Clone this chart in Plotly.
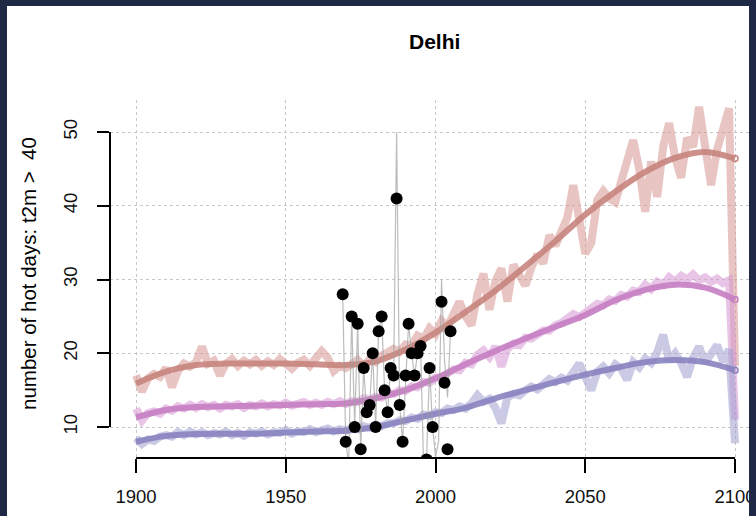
import plotly.graph_objects as go

# ---------------- data ----------------
noisy_years = list(range(1900, 2101, 2))

red_noisy = [17.0, 14.8, 16.6, 17.2, 16.8, 18.0, 15.4, 17.6, 18.6, 18.2,
             18.8, 20.9, 18.6, 19.0, 17.0, 18.6, 19.2, 18.3, 19.0, 18.5,
             19.1, 18.3, 18.9, 18.4, 19.2, 18.5, 17.9, 18.7, 19.1, 18.3,
             19.4, 20.3, 19.4, 17.6, 18.3, 18.0, 18.5, 19.1, 18.2, 19.2,
             18.8, 19.7, 20.1, 20.6, 20.2, 21.2, 21.0, 22.4, 22.0, 23.4,
             22.6, 24.4, 23.6, 25.2, 27.0, 25.0, 23.8, 28.0, 30.8, 25.9,
             29.8, 31.5, 27.0, 32.0, 30.4, 29.2, 31.6, 33.4, 32.2, 36.0,
             34.6, 36.8, 38.4, 42.8, 38.0, 33.5, 35.0, 40.8, 42.0, 41.0,
             40.5, 43.5, 45.5, 48.9, 45.0, 39.2, 46.0, 41.2, 48.0, 51.2,
             46.5, 43.8, 49.2, 48.0, 53.4, 47.5, 42.8, 47.6, 50.0, 53.2,
             18.3]

pink_noisy = [12.5, 10.9, 11.9, 12.1, 11.8, 12.5, 12.2, 12.8, 12.5, 13.0,
              12.6, 13.1, 12.7, 13.0, 12.5, 13.0, 12.8, 13.1, 12.6, 13.0,
              12.8, 13.2, 12.8, 13.1, 12.9, 13.3, 12.9, 13.2, 13.4, 13.0,
              13.3, 13.0, 13.4, 13.1, 13.5, 13.1, 13.5, 13.4, 13.9, 13.7,
              14.1, 14.0, 14.5, 14.5, 15.0, 14.9, 15.5, 15.4, 16.1, 16.0,
              16.7, 16.7, 17.3, 17.8, 17.7, 18.7, 18.5, 19.8, 20.4, 19.5,
              20.9, 18.2, 20.6, 21.3, 21.1, 22.1, 22.0, 22.7, 23.1, 23.1,
              23.8, 24.1, 24.6, 25.3, 24.9, 25.6, 26.0, 26.7, 26.5, 27.3,
              27.1, 27.9, 27.7, 28.5, 28.3, 29.3, 28.7, 29.7, 29.3, 30.3,
              29.7, 30.5, 30.0, 30.7, 29.9, 30.3, 29.7, 30.1, 29.5, 29.9,
              11.0]

blue_noisy = [8.5, 7.7, 8.3, 8.1, 8.7, 8.9, 8.7, 9.3, 8.9, 9.4,
              9.0, 9.3, 8.9, 9.2, 9.0, 9.4, 8.9, 9.2, 8.8, 9.3,
              9.1, 9.4, 9.0, 9.3, 9.2, 9.6, 9.1, 9.4, 9.3, 9.7,
              9.3, 9.6, 9.8, 9.4, 9.7, 9.5, 9.9, 9.7, 10.1, 9.9,
              10.3, 10.1, 10.5, 10.5, 10.9, 10.8, 11.3, 11.1, 11.7, 11.5,
              12.0, 11.9, 12.5, 12.3, 12.8, 12.5, 13.2, 14.3, 13.4, 13.8,
              12.6, 10.5, 14.0, 14.5, 14.3, 15.0, 15.5, 15.1, 15.8, 16.5,
              16.1, 16.7, 16.3, 17.3, 18.6, 16.8, 15.0, 17.5, 18.2, 17.3,
              18.5, 17.9, 16.4, 18.8, 18.1, 19.3, 18.7, 20.1, 22.5, 19.0,
              20.0, 18.7, 16.8, 19.4, 20.9, 18.7, 19.8, 21.1, 18.9, 20.5,
              7.8]

smooth_years = list(range(1900, 2101, 10))
red_smooth = [15.9, 17.5, 18.4, 18.6, 18.6, 18.6, 18.5, 18.4, 18.9, 20.5,
              22.8, 25.6, 28.5, 31.8, 35.2, 38.8, 41.9, 44.6, 46.5, 47.3, 46.4]
pink_smooth = [11.3, 12.3, 12.7, 12.8, 12.9, 13.0, 13.1, 13.2, 13.9, 15.0,
               16.6, 18.5, 20.3, 22.0, 23.6, 25.2, 27.2, 28.6, 29.3, 28.9, 27.3]
blue_smooth = [8.0, 8.8, 9.05, 9.1, 9.1, 9.25, 9.4, 9.5, 10.0, 10.9,
               11.8, 12.6, 13.9, 15.0, 16.1, 17.1, 18.0, 18.8, 19.1, 18.8, 17.7]

obs_years = list(range(1969, 2006))
obs_dots = [28, 8, None, 25, 10, 24, 7, 18, 12, 13,
            20, 10, 23, 25, 15, 12, 18, 17, 41, 13,
            8, 17, 24, 20, 17, 20, 21, None, 5.6, 18,
            10, None, None, 27, 16, 7, 23]
obs_line = [28, 8, 5, 25, 10, 24, 7, 18, 12, 13,
            20, 10, 23, 25, 15, 12, 18, 17, 50, 13,
            8, 17, 24, 20, 17, 20, 21, 5, 5.6, 18,
            10, 6, 8, 30, 19, 14, 23]

x_ticks = [1900, 1950, 2000, 2050, 2100]
y_ticks = [10, 20, 30, 40, 50]

title_text = "Delhi"
y_title = "number of hot days: t2m >  40"

# ---------------- styles ----------------
FONT = "Liberation Sans Narrow, Arial Narrow, Liberation Sans, Arial, sans-serif"
NAVY = "#1f2845"
series = [
    (red_noisy, red_smooth, "rgba(214,150,146,0.55)", "#c8857f"),
    (pink_noisy, pink_smooth, "rgba(214,150,212,0.55)", "#c67fc3"),
    (blue_noisy, blue_smooth, "rgba(160,158,208,0.55)", "#8984c0"),
]

fig = go.Figure()
for noisy, smooth, c_noisy, c_smooth in series:
    fig.add_trace(go.Scatter(x=noisy_years, y=noisy, mode="lines",
                             line=dict(color=c_noisy, width=8),
                             hoverinfo="skip", showlegend=False))
    fig.add_trace(go.Scatter(x=smooth_years, y=smooth, mode="lines",
                             line=dict(color=c_smooth, width=6, shape="spline", smoothing=1.0),
                             opacity=0.9, hoverinfo="skip", showlegend=False))
    fig.add_trace(go.Scatter(x=smooth_years[-1:], y=smooth[-1:], mode="markers",
                             marker=dict(symbol="circle-open", size=6, color=c_smooth,
                                         line=dict(width=1.5)),
                             hoverinfo="skip", showlegend=False))

fig.add_trace(go.Scatter(x=obs_years, y=obs_line, mode="lines",
                         line=dict(color="rgba(160,160,160,0.7)", width=1.2),
                         hoverinfo="skip", showlegend=False))
fig.add_trace(go.Scatter(x=obs_years, y=obs_dots, mode="markers",
                         marker=dict(color="black", size=12),
                         hoverinfo="skip", showlegend=False))

# plot region: x 110..756 px, y 100..458 px
L, R, T, B = 110, 756, 100, 458
W, H = 756, 516
pw, ph = R - L, B - T

def px_x(p):
    return (p - L) / pw

def px_y(p):
    return (B - p) / ph

fig.update_layout(
    width=W, height=H,
    margin=dict(l=L, r=W - R, t=T, b=H - B, pad=0),
    paper_bgcolor="white", plot_bgcolor="white",
    font=dict(family=FONT, color="black", size=18),
    xaxis=dict(range=[1891.3, 2107.0], tickvals=x_ticks, ticks="outside",
               ticklen=14, tickwidth=2, tickcolor="black", showline=False,
               zeroline=False, showgrid=True, gridcolor="#c8c8c8", griddash="dot",
               gridwidth=1.2, tickfont=dict(size=18.5, family=FONT, color="#111111"),
               ticklabelstandoff=8, ticklabeloverflow="allow"),
    yaxis=dict(range=[5.80, 54.34], tickvals=y_ticks, ticks="outside",
               ticklen=12, tickwidth=2, tickcolor="black", showline=False,
               zeroline=False, showgrid=True, gridcolor="#c8c8c8", griddash="dot",
               gridwidth=1.2, tickangle=-90, tickfont=dict(size=18.5, family=FONT, color="#111111"),
               ticklabelstandoff=13, ticklabeloverflow="allow"),
    shapes=[
        # R-style axis lines
        dict(type="line", xref="x", yref="paper", x0=x_ticks[0], x1=x_ticks[-1],
             y0=0, y1=0, line=dict(color="black", width=2), layer="above"),
        dict(type="line", xref="paper", yref="y", x0=0, x1=0,
             y0=y_ticks[0], y1=y_ticks[-1], line=dict(color="black", width=2), layer="above"),
        # dark frame
        dict(type="rect", xref="paper", yref="paper", x0=px_x(0), x1=px_x(7),
             y0=px_y(516), y1=px_y(0), fillcolor=NAVY, line=dict(width=0), layer="above"),
        dict(type="rect", xref="paper", yref="paper", x0=px_x(0), x1=px_x(756),
             y0=px_y(6), y1=px_y(0), fillcolor=NAVY, line=dict(width=0), layer="above"),
        dict(type="rect", xref="paper", yref="paper", x0=px_x(749), x1=px_x(756),
             y0=px_y(516), y1=px_y(0), fillcolor=NAVY, line=dict(width=0), layer="above"),
    ],
    annotations=[
        dict(text="<b>" + title_text + "</b>", xref="paper", yref="paper",
             x=px_x(434), y=px_y(42), showarrow=False, xanchor="center", yanchor="middle",
             font=dict(size=21, family=FONT)),
        dict(text=y_title, xref="paper", yref="paper", x=px_x(28), y=px_y(274),
             textangle=-90, showarrow=False, xanchor="center", yanchor="middle",
             font=dict(size=20.5, family=FONT)),
    ],
)

fig.write_html("out.html")
